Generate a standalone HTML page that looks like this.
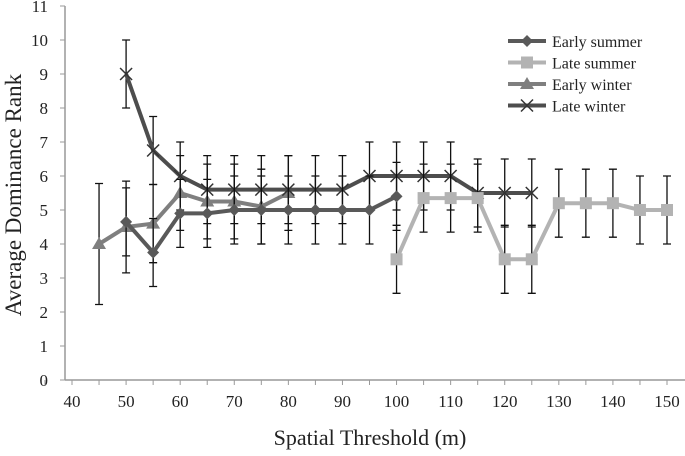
<!DOCTYPE html>
<html><head><meta charset="utf-8"><style>
html,body{margin:0;padding:0;background:#fff}
svg text{font-family:"Liberation Serif",serif;fill:#222}
</style></head><body>
<svg id="chart" width="685" height="451"></svg>
<script>
const esX=[50,55,60,65,70,75,80,85,90,95,100];
const esY=[4.65,3.75,4.9,4.9,5,5,5,5,5,5,5.4];
const esE=[1,1,1,1,1,1,1,1,1,1,1];
const lsX=[100,105,110,115,120,125,130,135,140,145,150];
const lsY=[3.55,5.35,5.35,5.35,3.55,3.55,5.2,5.2,5.2,5.0,5.0];
const lsE=[1,1,1,1,1,1,1,1,1,1,1];
const ewX=[45,50,55,60,65,70,75,80];
const ewY=[4,4.5,4.6,5.5,5.25,5.25,5.1,5.5];
const ewE=[1.78,1.35,1.15,1.1,1.1,1.1,1.1,1.1];
const lwX=[50,55,60,65,70,75,80,85,90,95,100,105,110,115,120,125];
const lwY=[9,6.75,6,5.6,5.6,5.6,5.6,5.6,5.6,6,6,6,6,5.5,5.5,5.5];
const lwE=[1,1,1,1,1,1,1,1,1,1,1,1,1,1,1,1];
const xTicks=[40,50,60,70,80,90,100,110,120,130,140,150];
const yTicks=[0,1,2,3,4,5,6,7,8,9,10,11];
const NS='http://www.w3.org/2000/svg';
const svg=document.getElementById('chart');
const X=v=>72+(v-40)*(595/110);
const Y=v=>380-v*34;
function mk(t,a,p){const e=document.createElementNS(NS,t);for(const k in a)e.setAttribute(k,a[k]);(p||svg).appendChild(e);return e;}
const ax=mk('line',{x1:65,y1:6,x2:65,y2:380,stroke:'#999','stroke-width':1.5});


const bx=mk('line',{x1:65,y1:380,x2:685,y2:380,stroke:'#999','stroke-width':1.5});


yTicks.forEach(v=>{
  mk('line',{x1:60,y1:Y(v),x2:65,y2:Y(v),stroke:'#999'});
  const t=mk('text',{x:48,y:Y(v)+6,'text-anchor':'end','font-size':17});
  t.textContent=v;
  
  
});
for(let v=35;v<=155;v+=5){mk('line',{x1:X(v),y1:380,x2:X(v),y2:385,stroke:'#999'});}
xTicks.forEach(v=>{
  const t=mk('text',{x:X(v),y:407,'text-anchor':'middle','font-size':17});
  t.textContent=v;
  
  
});
const xt=mk('text',{x:370,y:445,'text-anchor':'middle','font-size':22});
xt.textContent='Spatial Threshold (m)';


const yt=mk('text',{x:0,y:0,'text-anchor':'middle','font-size':23,transform:'translate(21,195) rotate(-90)'});
yt.textContent='Average Dominance Rank';


function marker(g,type,x,y,c){
  if(type==='d')mk('polygon',{points:`${x},${y-6} ${x+6},${y} ${x},${y+6} ${x-6},${y}`,fill:c},g);
  if(type==='s')mk('rect',{x:x-6,y:y-6,width:12,height:12,fill:c},g);
  if(type==='t')mk('polygon',{points:`${x},${y-7} ${x+7},${y+5} ${x-7},${y+5}`,fill:c},g);
  if(type==='x'){mk('path',{d:`M${x-6},${y-6}L${x+6},${y+6}M${x+6},${y-6}L${x-6},${y+6}`,stroke:c,'stroke-width':1.5},g);}
}
function series(name,xs,ys,es,c,type){
  const g=mk('g',{});
  
  
  xs.forEach((x,i)=>{const px=X(x),t=Y(ys[i]+es[i]),b=Y(ys[i]-es[i]);
    mk('path',{d:`M${px},${t}V${b}M${px-4},${t}H${px+4}M${px-4},${b}H${px+4}`,stroke:'#111','stroke-width':1.3},g);});
  mk('polyline',{points:xs.map((x,i)=>X(x)+','+Y(ys[i])).join(' '),fill:'none',stroke:c,'stroke-width':4},g);
  xs.forEach((x,i)=>marker(g,type,X(x),Y(ys[i]),type==='x'?'#333':c));
}
series('series-early-winter',ewX,ewY,ewE,'#7f7f7f','t');
series('series-late-winter',lwX,lwY,lwE,'#4d4d4d','x');
series('series-early-summer',esX,esY,esE,'#595959','d');
series('series-late-summer',lsX,lsY,lsE,'#b3b3b3','s');
const leg=[['Early summer','#595959','d'],['Late summer','#b3b3b3','s'],['Early winter','#7f7f7f','t'],['Late winter','#4d4d4d','x']];
leg.forEach((l,i)=>{
  const g=mk('g',{});
  
  
  const y=41+i*21.5;
  mk('line',{x1:508,y1:y,x2:546,y2:y,stroke:l[1],'stroke-width':4},g);
  marker(g,l[2],527,y,l[2]==='x'?'#333':l[1]);
  const t=mk('text',{x:552,y:y+6,'font-size':16},g);t.textContent=l[0];
});
</script>
</body></html>
